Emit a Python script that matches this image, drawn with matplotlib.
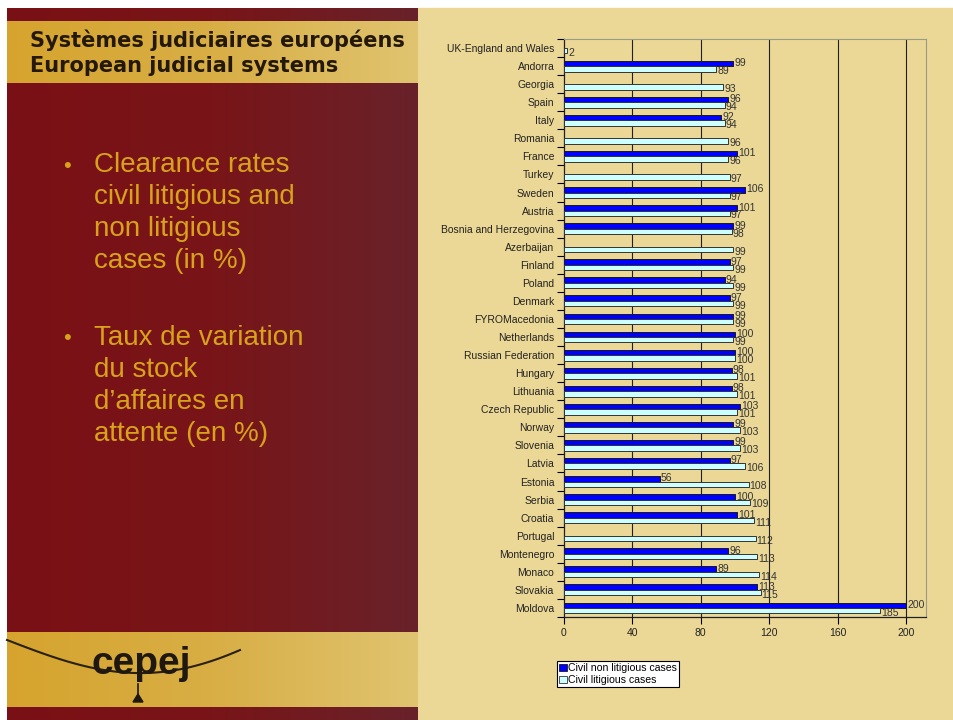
import numpy as np
import matplotlib
matplotlib.use("Agg")
import matplotlib.pyplot as plt
from matplotlib.patches import Patch, Polygon
from matplotlib.colors import LinearSegmentedColormap

plt.rcParams['font.family'] = ['Liberation Sans', 'DejaVu Sans']

countries = ["UK-England and Wales", "Andorra", "Georgia", "Spain", "Italy", "Romania",
             "France", "Turkey", "Sweden", "Austria", "Bosnia and Herzegovina", "Azerbaijan",
             "Finland", "Poland", "Denmark", "FYROMacedonia", "Netherlands",
             "Russian Federation", "Hungary", "Lithuania", "Czech Republic", "Norway",
             "Slovenia", "Latvia", "Estonia", "Serbia", "Croatia", "Portugal",
             "Montenegro", "Monaco", "Slovakia", "Moldova"]
non_litigious = [np.nan, 99, np.nan, 96, 92, np.nan, 101, np.nan, 106, 101, 99, np.nan,
                 97, 94, 97, 99, 100, 100, 98, 98, 103, 99, 99, 97, 56, 100, 101, np.nan,
                 96, 89, 113, 200]
litigious = [2, 89, 93, 94, 94, 96, 96, 97, 97, 97, 98, 99, 99, 99, 99, 99, 99, 100,
             101, 101, 101, 103, 103, 106, 108, 109, 111, 112, 113, 114, 115, 185]
x_ticks = [0, 40, 80, 120, 160, 200]
legend_labels = ["Civil non litigious cases", "Civil litigious cases"]
bullets = ["Clearance rates\ncivil litigious and\nnon litigious\ncases (in %)",
           "Taux de variation\ndu stock\nd\u2019affaires en\nattente (en %)"]

W, H = 954, 720
fig = plt.figure(figsize=(W / 100, H / 100), dpi=100)
fig.patch.set_facecolor('white')

# background panels drawn in pixel coordinates
bg = fig.add_axes([0, 0, 1, 1])
bg.axis('off')

red = LinearSegmentedColormap.from_list('red', ['#7a1015', '#781518', '#69222a'])
gold = LinearSegmentedColormap.from_list('gold', ['#d6a42e', '#d8ae45', '#e0c470'])
grad = np.linspace(0, 1, 256).reshape(1, -1)

bg.add_patch(plt.Rectangle((418, 8), W - 418, H - 8, color='#ebd896', zorder=0))
bg.imshow(grad, cmap=red, extent=(7, 418, H, 8), aspect='auto', zorder=1)
bg.imshow(grad, cmap=gold, extent=(7, 418, 83, 21), aspect='auto', zorder=2)
bg.imshow(grad, cmap=gold, extent=(7, 418, 707, 632), aspect='auto', zorder=2)
bg.set_xlim(0, W)
bg.set_ylim(H, 0)

# header
for yy, txt in [(40, "Syst\u00e8mes judiciaires europ\u00e9ens"), (66, "European judicial systems")]:
    bg.text(30, yy, txt, fontsize=15, fontweight='bold', family='DejaVu Sans',
            color='#24180a', va='center', ha='left', zorder=3)

# bullets
for ytop, txt in zip([152, 325], bullets):
    bg.text(63, ytop + 14, "\u2022", fontsize=16, color='#d9a21c', va='center', zorder=3)
    bg.text(94, ytop, txt, fontsize=20, color='#d9a21c', va='top', ha='left',
            linespacing=1.3, zorder=3)

# cepej logo
t = np.linspace(0, 1, 60)
arc_x = 7 + 233 * t
arc_y = 640 + 44 * np.sin(np.pi * t * 0.78) - 18 * t
bg.plot(arc_x, arc_y, color='#2a2010', lw=1.5, zorder=3)
bg.text(141, 664, "cepej", fontsize=28, fontweight='bold', color='#1e1810',
        ha='center', va='center', zorder=4)
bg.plot([138, 138], [684, 696], color='#1e1810', lw=1.2, zorder=4)
bg.add_patch(Polygon([[133, 702], [143, 702], [138, 694]], closed=True, color='#1e1810', zorder=4))

# chart
ax = fig.add_axes([564 / W, 1 - 617 / H, (926 - 564) / W, (617 - 39) / H])
ax.set_facecolor('#ebd896')
n = len(countries)
y = np.arange(n)
h = 0.3
dark = '#0000ff'
light = '#ccffff'
ax.barh(y - h / 2, non_litigious, height=h, color=dark, edgecolor='#1a1a1a', lw=0.7, zorder=3)
ax.barh(y + h / 2, litigious, height=h, color=light, edgecolor='#333333', lw=0.7, zorder=3)

for i in range(n):
    v = non_litigious[i]
    if not np.isnan(v):
        ax.text(v + 0.6, i - h / 2 - 0.02, f"{v:g}", fontsize=7.5, color='#333333',
                va='center', ha='left', zorder=4)
    v = litigious[i]
    ax.text(v + 0.6, i + h / 2 + 0.12, f"{v:g}", fontsize=7.5, color='#333333',
            va='center', ha='left', zorder=4)

ax.set_xlim(0, 211.7)
ax.set_ylim(n - 0.5, -0.5)
ax.set_xticks(x_ticks)
ax.set_xticklabels([str(v) for v in x_ticks], fontsize=7.5, color='#222222')
ax.set_yticks(y)
ax.set_yticklabels(countries, fontsize=7.5, color='#222222')
ax.set_yticks(np.arange(-0.5, n, 1.0), minor=True)
ax.tick_params(axis='y', which='major', length=0, pad=7)
ax.tick_params(axis='y', which='minor', length=5, width=0.8, direction='out')
ax.tick_params(axis='x', length=5, width=0.8, direction='out', pad=3)
for gx in x_ticks[1:]:
    ax.axvline(gx, color='#202020', lw=0.8, zorder=1)
for side in ['top', 'right']:
    ax.spines[side].set_color('#9a9a8a')
    ax.spines[side].set_linewidth(0.8)
for side in ['left', 'bottom']:
    ax.spines[side].set_color('#202020')
    ax.spines[side].set_linewidth(0.9)

handles = [Patch(facecolor=dark, edgecolor='#1a1a1a', lw=0.6),
           Patch(facecolor=light, edgecolor='#333333', lw=0.6)]
leg = fig.legend(handles, legend_labels, loc='upper left',
                 bbox_to_anchor=(557 / W, 1 - 661 / H), fontsize=7.6,
                 frameon=True, fancybox=False, edgecolor='black', framealpha=1,
                 handlelength=0.7, handleheight=0.7, handletextpad=0.15,
                 borderpad=0.2, labelspacing=0.2, borderaxespad=0)
leg.get_frame().set_linewidth(0.8)

fig.savefig('out.png', dpi=100, facecolor='white')
